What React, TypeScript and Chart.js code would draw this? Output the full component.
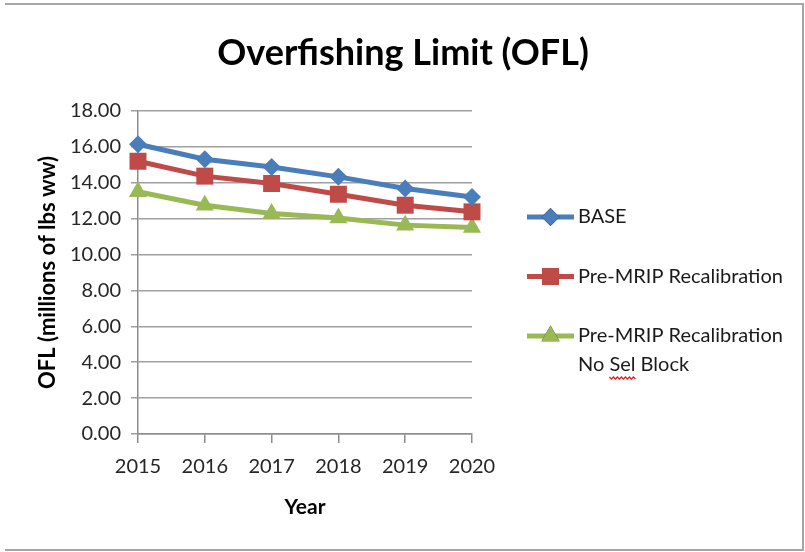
import React, { useEffect, useRef } from "react";
import { Chart, registerables } from "chart.js";
import { drawPoint } from "chart.js/helpers";

Chart.register(...registerables);

const years = ["2015", "2016", "2017", "2018", "2019", "2020"];
const baseValues = [16.15, 15.31, 14.88, 14.33, 13.68, 13.21];
const preMripValues = [15.2, 14.37, 13.96, 13.36, 12.75, 12.38];
const noSelBlockValues = [13.5, 12.75, 12.29, 12.04, 11.64, 11.51];
const seriesLabels = ["BASE", "Pre-MRIP Recalibration", "Pre-MRIP Recalibration\nNo Sel Block"];
const chartTitle = "Overfishing Limit (OFL)";
const yTitle = "OFL (millions of lbs ww)";
const xTitle = "Year";

const FONT = "Lato, 'Open Sans', sans-serif";

const framePlugin = {
  id: "frame",
  afterDraw(chart: any) {
    const ctx = chart.ctx;
    ctx.save();
    // border
    ctx.strokeStyle = "#a6a6a6";
    ctx.lineWidth = 2;
    ctx.beginPath();
    ctx.moveTo(5, 4);
    ctx.lineTo(803, 4);
    ctx.lineTo(803, 550);
    ctx.lineTo(5, 550);
    ctx.stroke();
    // title
    ctx.fillStyle = "#000";
    ctx.font = `bold 36px ${FONT}`;
    ctx.textAlign = "center";
    ctx.textBaseline = "middle";
    ctx.fillText(chartTitle, 403, 53);
    // legend
    const ds = chart.data.datasets;
    const startY = 217;
    const gap = 59.5;
    ctx.font = `20px ${FONT}`;
    ctx.textAlign = "left";
    ds.forEach((d: any, i: number) => {
      const y = startY + i * gap;
      ctx.strokeStyle = d.borderColor;
      ctx.lineWidth = d.borderWidth;
      ctx.beginPath();
      ctx.moveTo(527, y);
      ctx.lineTo(574, y);
      ctx.stroke();
      drawPoint(ctx, {
        pointStyle: d.pointStyle,
        radius: d.pointRadius,
        rotation: 0,
        borderWidth: 0,
      } as any, 550.5, y);
      ctx.fillStyle = d.pointBackgroundColor;
      ctx.fill();
      const lines = String(d.label).split("\n");
      ctx.fillStyle = "#1a1a1a";
      lines.forEach((t: string, j: number) => {
        ctx.fillText(t, 578, y + j * 29);
      });
      if (lines.length > 1) {
        // spell-check squiggle under "Sel"
        const x0 = 578 + ctx.measureText("No ").width;
        const w = ctx.measureText("Sel").width;
        const yy = y + 29 + 12;
        ctx.strokeStyle = "#e02020";
        ctx.lineWidth = 1.3;
        ctx.beginPath();
        for (let x = 0; x <= w; x += 1) {
          const px = x0 + x;
          const ph = x % 4;
          const py = yy + (ph < 2 ? ph : 4 - ph);
          if (x === 0) ctx.moveTo(px, py);
          else ctx.lineTo(px, py);
        }
        ctx.stroke();
      }
    });
    ctx.restore();
  },
};

export default function App() {
  const ref = useRef<HTMLCanvasElement>(null);
  useEffect(() => {
    if (!ref.current) return;
    const mk = (label: string, data: number[], color: string, style: string, r: number) => ({
      label,
      data,
      borderColor: color,
      backgroundColor: color,
      pointBackgroundColor: color,
      pointBorderColor: color,
      pointBorderWidth: 0,
      borderWidth: 5,
      pointStyle: style,
      pointRadius: r,
      tension: 0,
    });
    const chart = new Chart(ref.current, {
      type: "line",
      data: {
        labels: years,
        datasets: [
          mk(seriesLabels[0], baseValues, "#4a7ebb", "rectRot", 9),
          mk(seriesLabels[1], preMripValues, "#be4b48", "rect", 12),
          mk(seriesLabels[2], noSelBlockValues, "#98b954", "triangle", 10.5),
        ],
      },
      options: {
        animation: false,
        responsive: false,
        devicePixelRatio: 1,
        layout: { padding: { top: 111, right: 333, bottom: 0, left: 0 } },
        plugins: { legend: { display: false }, title: { display: false }, tooltip: { enabled: false } },
        scales: {
          x: {
            offset: false,
            afterFit: (s: any) => { s.height = 118; },
            grid: { drawOnChartArea: false, drawTicks: true, tickLength: 9, color: "#8c8c8c", lineWidth: 1.5 },
            border: { color: "#8c8c8c", width: 1.5 },
            ticks: { color: "#262626", font: { family: FONT, size: 20 }, padding: 12, maxRotation: 0 },
            title: { display: true, text: xTitle, color: "#000", font: { family: FONT, size: 21, weight: "bold" }, padding: { top: 0, bottom: 32.4 } },
          },
          y: {
            min: 0,
            max: 18,
            afterFit: (s: any) => { s.width = 138; },
            grid: { color: "#a0a0a0", lineWidth: 1.5, tickLength: 7 },
            border: { color: "#8c8c8c", width: 1.5 },
            ticks: { stepSize: 2, color: "#262626", font: { family: FONT, size: 20 }, padding: 10, callback: (v: any) => Number(v).toFixed(2) },
            title: { display: true, text: yTitle, color: "#000", font: { family: FONT, size: 22, weight: "bold" }, padding: { top: 35, bottom: 0 } },
          },
        },
      },
      plugins: [framePlugin],
    });
    return () => chart.destroy();
  }, []);
  return (
    <div style={{ position: "fixed", left: 0, top: 0, width: 805, height: 552, background: "#fff" }}>
      <canvas ref={ref} width={805} height={552} style={{ width: 805, height: 552, display: "block" }} />
    </div>
  );
}
